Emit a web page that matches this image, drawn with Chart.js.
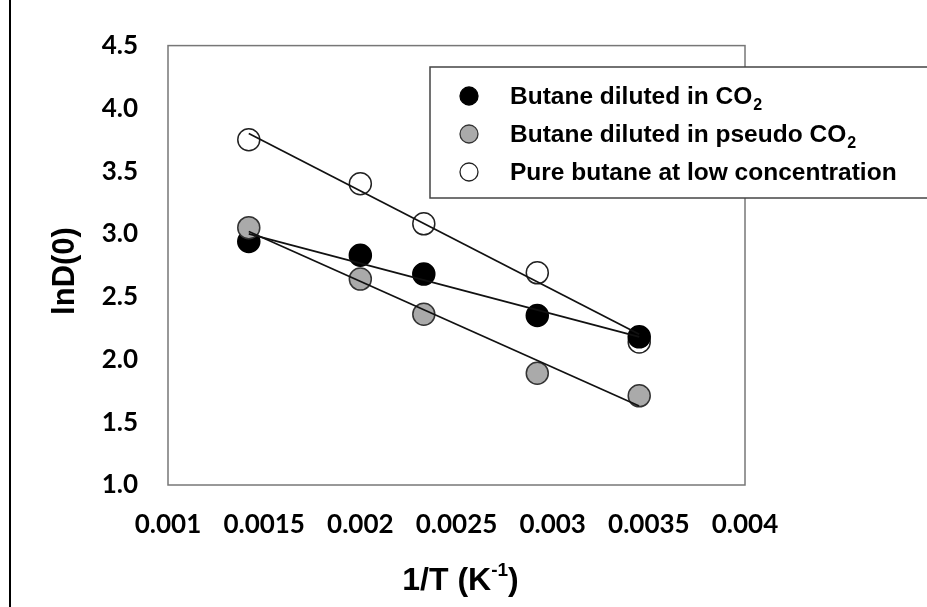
<!DOCTYPE html>
<html>
<head>
<meta charset="utf-8">
<script src="https://cdn.jsdelivr.net/npm/chart.js@4"></script>
<style>
  html, body { margin: 0; padding: 0; background: #fff; }
  #wrap { width: 927px; height: 607px; }
</style>
</head>
<body>
<div id="wrap"><canvas id="chart" width="927" height="607"></canvas></div>
<script>
// 1/T values (K^-1)
const invT = [0.00142, 0.002, 0.00233, 0.00292, 0.00345];

// lnD(0) for each series
const co2Values = [2.94, 2.83, 2.68, 2.35, 2.18];
const pseudoValues = [3.05, 2.64, 2.36, 1.89, 1.71];
const pureValues = [3.75, 3.40, 3.08, 2.69, 2.14];

// trend line ends (at first and last 1/T)
const trendX = [0.00142, 0.00345];
const co2Trend = [3.00, 2.18];
const pseudoTrend = [3.02, 1.63];
const pureTrend = [3.80, 2.20];

const xTickLabels = ['0.001', '0.0015', '0.002', '0.0025', '0.003', '0.0035', '0.004'];
const yTickLabels = ['1.0', '1.5', '2.0', '2.5', '3.0', '3.5', '4.0', '4.5'];

const legendNames = [
  ['Butane diluted in CO', '2'],
  ['Butane diluted in pseudo CO', '2'],
  ['Pure butane at low concentration', '']
];

const toPoints = (xs, ys) => xs.map((x, i) => ({ x: x, y: ys[i] }));

const pointStyle = (fill, border, order) => ({
  showLine: false,
  pointRadius: 11,
  pointHoverRadius: 11,
  pointBackgroundColor: fill,
  pointBorderColor: border,
  pointBorderWidth: 1.5,
  order: order
});

const lineStyle = {
  showLine: true,
  pointRadius: 0,
  borderColor: '#111',
  borderWidth: 1.7,
  fill: false,
  order: 0
};

// frame, left rule, titles and the legend box
const decor = {
  id: 'decor',
  afterDraw(chart) {
    const ctx = chart.ctx;
    const a = chart.chartArea;
    ctx.save();

    ctx.strokeStyle = '#777';
    ctx.lineWidth = 1.5;
    ctx.strokeRect(a.left, a.top, a.right - a.left, a.bottom - a.top);

    ctx.strokeStyle = '#000';
    ctx.lineWidth = 2;
    ctx.beginPath();
    ctx.moveTo(10, 0);
    ctx.lineTo(10, 607);
    ctx.stroke();

    // y title
    ctx.fillStyle = '#000';
    ctx.font = 'bold 31px "Liberation Sans", Arial, sans-serif';
    ctx.textAlign = 'center';
    ctx.textBaseline = 'middle';
    ctx.save();
    ctx.translate(65, 271);
    ctx.rotate(-Math.PI / 2);
    ctx.fillText('lnD(0)', 0, 0);
    ctx.restore();

    // x title with superscript
    const big = 'bold 32px "Liberation Sans", Arial, sans-serif';
    const small = 'bold 19px "Liberation Sans", Arial, sans-serif';
    ctx.textAlign = 'left';
    ctx.textBaseline = 'alphabetic';
    ctx.font = big;
    const p1 = '1/T (K', p3 = ')';
    const w1 = ctx.measureText(p1).width, w3 = ctx.measureText(p3).width;
    ctx.font = small;
    const w2 = ctx.measureText('-1').width;
    let tx = (a.left + a.right) / 2 + 4 - (w1 + w2 + w3) / 2;
    const ty = 590;
    ctx.font = big;
    ctx.fillText(p1, tx, ty);
    ctx.font = small;
    ctx.fillText('-1', tx + w1, ty - 14);
    ctx.font = big;
    ctx.fillText(p3, tx + w1 + w2, ty);

    // legend
    const lx = 430, ly = 67, lw = 520, lh = 131;
    ctx.fillStyle = '#fff';
    ctx.fillRect(lx, ly, lw, lh);
    ctx.strokeStyle = '#444';
    ctx.lineWidth = 1.5;
    ctx.strokeRect(lx, ly, lw, lh);

    const marks = [['#000', '#000'], ['#aaa', '#333'], ['#fff', '#222']];
    const rows = [96, 134, 172];
    rows.forEach((ry, i) => {
      ctx.beginPath();
      ctx.arc(469, ry, 9, 0, Math.PI * 2);
      ctx.fillStyle = marks[i][0];
      ctx.fill();
      ctx.strokeStyle = marks[i][1];
      ctx.lineWidth = 1.3;
      ctx.stroke();

      ctx.fillStyle = '#000';
      ctx.font = 'bold 24.5px "Liberation Sans", Arial, sans-serif';
      ctx.textBaseline = 'alphabetic';
      ctx.fillText(legendNames[i][0], 510, ry + 8);
      if (legendNames[i][1]) {
        const w = ctx.measureText(legendNames[i][0]).width;
        ctx.font = 'bold 16px "Liberation Sans", Arial, sans-serif';
        ctx.fillText(legendNames[i][1], 510 + w + 1, ry + 14);
      }
    });

    ctx.restore();
  }
};

new Chart(document.getElementById('chart'), {
  type: 'scatter',
  data: {
    datasets: [
      Object.assign({ label: 'co2 fit', data: toPoints(trendX, co2Trend) }, lineStyle),
      Object.assign({ label: 'pseudo fit', data: toPoints(trendX, pseudoTrend) }, lineStyle),
      Object.assign({ label: 'pure fit', data: toPoints(trendX, pureTrend) }, lineStyle),
      Object.assign({ label: 'Butane diluted in pseudo CO2', data: toPoints(invT, pseudoValues) }, pointStyle('#aaa', '#333', 1)),
      Object.assign({ label: 'Butane diluted in CO2', data: toPoints(invT, co2Values) }, pointStyle('#000', '#000', 2)),
      Object.assign({ label: 'Pure butane at low concentration', data: toPoints(invT, pureValues) }, pointStyle('#fff', '#222', 3))
    ]
  },
  options: {
    responsive: false,
    animation: false,
    devicePixelRatio: 1,
    layout: { padding: { left: 0, top: 44, right: 182, bottom: 0 } },
    plugins: { legend: { display: false }, tooltip: { enabled: false } },
    scales: {
      x: {
        type: 'linear',
        min: 0.001,
        max: 0.004,
        grid: { display: false, drawTicks: false },
        border: { display: false },
        ticks: {
          stepSize: 0.0005,
          padding: 24,
          color: '#000',
          font: { family: 'Lato', weight: 'bold', size: 26 },
          maxRotation: 0,
          autoSkip: false,
          callback: (v, i) => xTickLabels[i]
        },
        afterFit: (s) => { s.height = 122; }
      },
      y: {
        type: 'linear',
        min: 1,
        max: 4.5,
        grid: { display: false, drawTicks: false },
        border: { display: false },
        ticks: {
          stepSize: 0.5,
          padding: 30,
          color: '#000',
          font: { family: 'Lato', weight: 'bold', size: 26 },
          callback: (v, i) => yTickLabels[i]
        },
        afterFit: (s) => { s.width = 168; }
      }
    }
  },
  plugins: [decor]
});
</script>
</body>
</html>
